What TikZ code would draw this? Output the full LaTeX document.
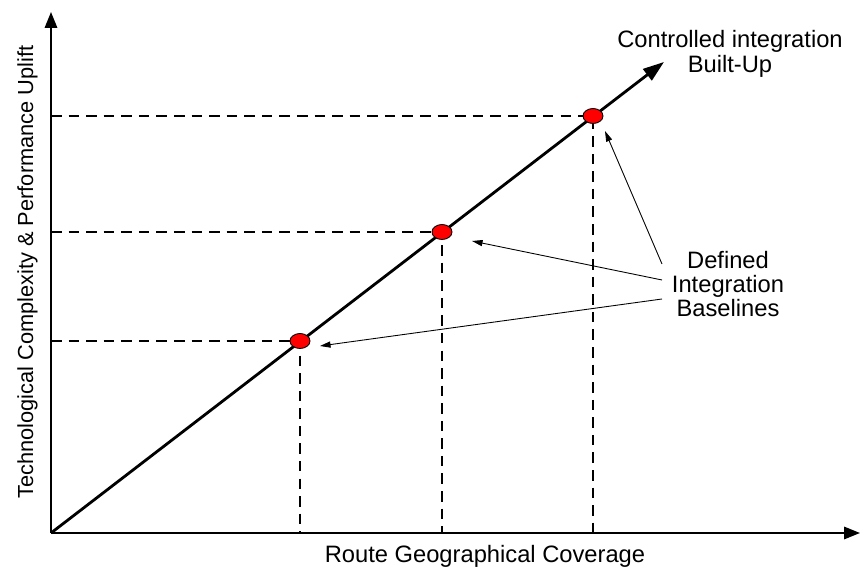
\documentclass[tikz,border=0pt]{standalone}
\usepackage{fontspec}
\setmainfont{Liberation Sans}
\usetikzlibrary{arrows.meta, shapes.geometric, positioning}

\tikzset{
  axis/.style={line width=1.1pt, -{Triangle[length=9pt, width=7pt]}},
  guide/.style={line width=0.8pt, dash pattern=on 6pt off 4pt},
  baseline/.style={ellipse, draw, fill=red, line width=0.5pt,
    minimum width=0.4cm, minimum height=0.3cm, inner sep=0pt},
  pointer/.style={line width=0.5pt, -{Triangle[length=6pt, width=3.5pt]}},
  lbl/.style={font=\fontsize{13.5}{13.6}\selectfont, align=center}
}

\begin{document}
\begin{tikzpicture}[x=0.02cm, y=-0.02cm]
  \useasboundingbox (0,0) rectangle (860,567);
  % axes
  \coordinate (o) at (51,533);
  \coordinate (ytop) at (51,12);
  \coordinate (xend) at (860,533);
  \coordinate (trend) at (664,62);
  \draw[axis] (o) -- (ytop);
  \draw[axis] (o) -- (xend);
  \node[font=\fontsize{12.4}{14}\selectfont, rotate=90, anchor=base] (ylab) at (33,272)
    {Technological Complexity \& Performance Uplift};
  \node[lbl, anchor=base] (xlab) at (485,563) {Route Geographical Coverage};
  % growth line
  \draw[line width=1.6pt, -{Triangle[length=12pt, width=8pt]}] (o) -- (trend);
  \node[lbl, font=\fontsize{13.5}{14.2}\selectfont] (ctrl) at (730,54)
    {Controlled integration\\Built-Up};
  % baselines
  \foreach \n/\x/\y in {p1/300/341, p2/442/232, p3/593/116} {
    \coordinate (\n x) at (\x,533);
    \coordinate (\n y) at (51,\y);
    \draw[guide] (\n y) -- (\x,\y) -- (\n x);
    \node[baseline] (\n) at (\x,\y) {};
  }
  \node[lbl] (defd) at (728,284) {Defined\\Integration\\Baselines};
  \draw[pointer] ([shift={(-66,-20)}]defd.center) -- ([shift={(12,15)}]p3.center);
  \draw[pointer] ([shift={(-66,-4)}]defd.center) -- ([shift={(30,9)}]p2.center);
  \draw[pointer] ([shift={(-66,15)}]defd.center) -- ([shift={(20,5)}]p1.center);
\end{tikzpicture}
\end{document}
